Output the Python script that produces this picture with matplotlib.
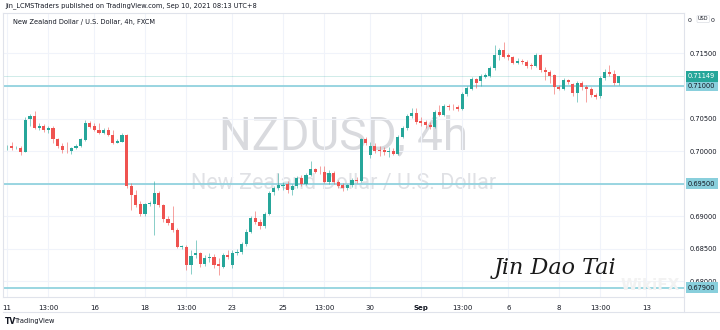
import matplotlib
matplotlib.use("Agg")
import matplotlib.pyplot as plt
import matplotlib.transforms as mtransforms
import numpy as np

# 4h candles NZDUSD
opens = [0.7004, 0.7008, 0.7004, 0.7005, 0.6999, 0.7049, 0.7054, 0.7036, 0.7038, 0.7032,
         0.7036, 0.7018, 0.7008, 0.7002, 0.7000, 0.7005, 0.7008, 0.7017, 0.7043, 0.7038,
         0.7033, 0.7028, 0.7033, 0.7025, 0.7013, 0.7014, 0.7025, 0.6946, 0.6932, 0.6918,
         0.6903, 0.6918, 0.6919, 0.6936, 0.6917, 0.6895, 0.6890, 0.6878, 0.6852, 0.6853,
         0.6824, 0.6840, 0.6843, 0.6826, 0.6836, 0.6837, 0.6826, 0.6822, 0.6840, 0.6825,
         0.6843, 0.6844, 0.6857, 0.6876, 0.6897, 0.6891, 0.6884, 0.6903, 0.6937, 0.6943,
         0.6946, 0.6950, 0.6940, 0.6946, 0.6958, 0.6950, 0.6963, 0.6972, 0.6968, 0.6967,
         0.6953, 0.6966, 0.6952, 0.6947, 0.6943, 0.6948, 0.6956, 0.6954, 0.7018, 0.6994,
         0.7007, 0.7002, 0.7001, 0.6998, 0.7000, 0.6996, 0.7022, 0.7035, 0.7054, 0.7058,
         0.7046, 0.7044, 0.7040, 0.7037, 0.7060, 0.7056, 0.7069, 0.7068, 0.7068, 0.7065,
         0.7087, 0.7096, 0.7110, 0.7107, 0.7114, 0.7116, 0.7127, 0.7147, 0.7155, 0.7148,
         0.7144, 0.7136, 0.7138, 0.7137, 0.7132, 0.7131, 0.7148, 0.7125, 0.7122, 0.7117,
         0.7099, 0.7096, 0.7109, 0.7103, 0.7089, 0.7104, 0.7099, 0.7095, 0.7086, 0.7084,
         0.7112, 0.7121, 0.7118, 0.7105]
closes = [0.7005, 0.7004, 0.7005, 0.6999, 0.7048, 0.7054, 0.7036, 0.7038, 0.7032, 0.7036,
          0.7018, 0.7008, 0.7002, 0.7001, 0.7005, 0.7008, 0.7018, 0.7043, 0.7037, 0.7033,
          0.7028, 0.7033, 0.7025, 0.7013, 0.7015, 0.7025, 0.6946, 0.6932, 0.6917, 0.6903,
          0.6918, 0.6920, 0.6936, 0.6917, 0.6895, 0.6890, 0.6878, 0.6853, 0.6854, 0.6824,
          0.6839, 0.6843, 0.6826, 0.6836, 0.6837, 0.6825, 0.6823, 0.6840, 0.6837, 0.6843,
          0.6845, 0.6857, 0.6876, 0.6897, 0.6891, 0.6884, 0.6903, 0.6936, 0.6943, 0.6947,
          0.6948, 0.6940, 0.6946, 0.6958, 0.6950, 0.6963, 0.6972, 0.6968, 0.6967, 0.6953,
          0.6966, 0.6952, 0.6946, 0.6943, 0.6948, 0.6956, 0.6954, 0.7018, 0.7013, 0.7007,
          0.7000, 0.7000, 0.6999, 0.7000, 0.6996, 0.7022, 0.7035, 0.7054, 0.7058, 0.7045,
          0.7043, 0.7040, 0.7037, 0.7060, 0.7056, 0.7069, 0.7067, 0.7067, 0.7065, 0.7087,
          0.7097, 0.7110, 0.7105, 0.7115, 0.7117, 0.7128, 0.7147, 0.7155, 0.7145, 0.7144,
          0.7136, 0.7138, 0.7137, 0.7131, 0.7130, 0.7148, 0.7125, 0.7122, 0.7116, 0.7098,
          0.7096, 0.7109, 0.7106, 0.7089, 0.7105, 0.7099, 0.7095, 0.7086, 0.7083, 0.7112,
          0.7121, 0.7118, 0.7104, 0.71149]
highs = [0.7009, 0.7014, 0.7008, 0.7008, 0.7052, 0.7057, 0.7062, 0.7043, 0.7042, 0.7038,
         0.7038, 0.7020, 0.7012, 0.7014, 0.7006, 0.7011, 0.7020, 0.7047, 0.7046, 0.7043,
         0.7043, 0.7035, 0.7037, 0.7032, 0.7018, 0.7028, 0.7026, 0.6951, 0.6940, 0.6923,
         0.6920, 0.6923, 0.6954, 0.6938, 0.6918, 0.6900, 0.6915, 0.6882, 0.6855, 0.6855,
         0.6848, 0.6863, 0.6845, 0.6840, 0.6843, 0.6842, 0.6835, 0.6843, 0.6848, 0.6848,
         0.6849, 0.6860, 0.6880, 0.6900, 0.6907, 0.6895, 0.6906, 0.6938, 0.6946, 0.6966,
         0.6952, 0.6954, 0.6949, 0.6962, 0.6963, 0.6966, 0.6984, 0.6974, 0.6977, 0.6977,
         0.6971, 0.6969, 0.6955, 0.6951, 0.6949, 0.6958, 0.6960, 0.7020, 0.7022, 0.7014,
         0.7012, 0.7008, 0.7006, 0.7006, 0.7005, 0.7025, 0.7038, 0.7057, 0.7066, 0.7066,
         0.7052, 0.7048, 0.7045, 0.7063, 0.7071, 0.7072, 0.7072, 0.7072, 0.7071, 0.7091,
         0.7100, 0.7114, 0.7112, 0.7118, 0.7120, 0.7131, 0.7163, 0.7158, 0.7168, 0.7151,
         0.7146, 0.7143, 0.7142, 0.7140, 0.7135, 0.7151, 0.7149, 0.7129, 0.7125, 0.7118,
         0.7102, 0.7112, 0.7111, 0.7105, 0.7108, 0.7108, 0.7102, 0.7098, 0.7089, 0.7115,
         0.7126, 0.7132, 0.7125, 0.7116]
lows = [0.7002, 0.7002, 0.7003, 0.6994, 0.6998, 0.7038, 0.7034, 0.7032, 0.7029, 0.7028,
        0.7012, 0.7005, 0.6997, 0.6997, 0.6995, 0.7003, 0.7006, 0.7015, 0.7035, 0.7031,
        0.7026, 0.7026, 0.7023, 0.7011, 0.7012, 0.7014, 0.6943, 0.6909, 0.6914, 0.6900,
        0.6900, 0.6915, 0.6871, 0.6914, 0.6891, 0.6886, 0.6875, 0.6851, 0.6849, 0.6817,
        0.6811, 0.6835, 0.6822, 0.6823, 0.6829, 0.6820, 0.6809, 0.6820, 0.6834, 0.6820,
        0.6840, 0.6842, 0.6854, 0.6874, 0.6888, 0.6880, 0.6882, 0.6902, 0.6932, 0.6940,
        0.6940, 0.6935, 0.6932, 0.6943, 0.6946, 0.6948, 0.6962, 0.6966, 0.6965, 0.6951,
        0.6949, 0.6949, 0.6943, 0.6938, 0.6940, 0.6945, 0.6951, 0.6952, 0.7009, 0.6989,
        0.6997, 0.6992, 0.6994, 0.6991, 0.6994, 0.6994, 0.7020, 0.7032, 0.7051, 0.7042,
        0.7038, 0.7035, 0.7034, 0.7035, 0.7054, 0.7054, 0.7063, 0.7063, 0.7062, 0.7063,
        0.7085, 0.7094, 0.7097, 0.7100, 0.7112, 0.7114, 0.7125, 0.7140, 0.7143, 0.7140,
        0.7134, 0.7134, 0.7134, 0.7128, 0.7126, 0.7129, 0.7122, 0.7109, 0.7105, 0.7088,
        0.7094, 0.7094, 0.7103, 0.7085, 0.7075, 0.7094, 0.7075, 0.7083, 0.7080, 0.7082,
        0.7109, 0.7115, 0.7102, 0.7102]

# time axis labels (bar index where they sit)
tick_pos = [0, 9, 19, 30, 39, 49, 60, 69, 79, 90, 99, 109, 120, 129, 139]
tick_lbl = ["11", "13:00", "16", "18", "13:00", "23", "25", "13:00", "30", "Sep",
            "13:00", "6", "8", "13:00", "13"]

levels = [0.71000, 0.69500, 0.67900]
last_price = closes[-1]
price_ticks = [0.680, 0.685, 0.690, 0.695, 0.700, 0.705, 0.710, 0.715]

UP = "#26a69a"
DOWN = "#ef5350"
LEVEL = "#89cfdc"
GRID = "#f0f3fa"
TXT = "#131722"

W, H = 720, 330
fig = plt.figure(figsize=(W / 100, H / 100), dpi=100)
fig.patch.set_facecolor("white")

# plot area in pixels: left 3, right 684, top 13, bottom 297
L, R, T, B = 3, 684, 13, 297
ax = fig.add_axes([L / W, 1 - B / H, (R - L) / W, (B - T) / H])

o = np.array(opens)
c = np.array(closes)
hi = np.array(highs)
lo = np.array(lows)
x = np.arange(len(o))
up = c >= o
cols = np.where(up, UP, DOWN)

ax.vlines(x, lo, hi, colors=cols, linewidth=0.7, alpha=0.55, zorder=3)
body_lo = np.minimum(o, c)
body_h = np.maximum(np.abs(c - o), 0.00004)
ax.bar(x, body_h, bottom=body_lo, width=0.68, color=cols, linewidth=0, zorder=4)

for lv in levels:
    ax.axhline(lv, color=LEVEL, linewidth=1.2, zorder=2)
ax.axhline(last_price, color=UP, linewidth=0.6, alpha=0.25, zorder=2)

ax.set_xlim(-0.87, 147.2)
ax.set_ylim(0.67754, 0.72123)

ax.set_xticks(tick_pos)
ax.set_xticklabels(tick_lbl)
for lab in ax.get_xticklabels():
    lab.set_fontsize(5)
    lab.set_color(TXT)
    if lab.get_text() == "Sep":
        lab.set_fontweight("bold")
ax.tick_params(axis="x", length=0, pad=6)

ax.yaxis.tick_right()
ax.set_yticks(price_ticks)
ax.set_yticklabels([f"{p:.5f}" for p in price_ticks])
ax.tick_params(axis="y", length=0, pad=4, labelsize=4.8, labelcolor=TXT)

ax.grid(True, color=GRID, linewidth=0.8, zorder=0)
for s in ax.spines.values():
    s.set_color("#e0e3eb")
    s.set_linewidth(0.8)

# boxed price labels on the right scale
trans = mtransforms.blended_transform_factory(ax.transAxes, ax.transData)
for lv in levels:
    ax.text(1.006, lv, f"{lv:.5f}", transform=trans, ha="left", va="center",
            fontsize=4.8, color=TXT, clip_on=False, zorder=6,
            bbox=dict(boxstyle="square,pad=0.35", fc=LEVEL, ec="none"))
ax.text(1.006, last_price, f"{last_price:.5f}", transform=trans, ha="left", va="center",
        fontsize=4.8, color="white", clip_on=False, zorder=6,
        bbox=dict(boxstyle="square,pad=0.35", fc=UP, ec="none"))

# watermark
ax.text(0.5, 0.565, "NZDUSD, 4h", transform=ax.transAxes, ha="center", va="center",
        fontsize=33, family="Roboto", color="#d9dade", zorder=1)
ax.text(0.5, 0.398, "New Zealand Dollar / U.S. Dollar", transform=ax.transAxes,
        ha="center", va="center", fontsize=15.5, family="Roboto", color="#e0e1e5", zorder=1)

# header / legend
fig.text(5 / W, 1 - 6 / H, "Jin_LCMSTraders published on TradingView.com, Sep 10, 2021 08:13 UTC+8",
         fontsize=4.8, color=TXT, va="center", ha="left")
ax.text(10 / (R - L), 1 - 9 / (B - T), "New Zealand Dollar / U.S. Dollar, 4h, FXCM",
        transform=ax.transAxes, fontsize=4.8, color=TXT, va="center", ha="left")

# top of price scale
fig.text(688 / W, 1 - 21 / H, "0", fontsize=4.5, color=TXT, va="center")
fig.text(698 / W, 1 - 19 / H, "USD", fontsize=3.6, color=TXT, va="center",
         bbox=dict(boxstyle="round,pad=0.2", fc="white", ec="#d1d4dc", lw=0.4))
fig.text(711 / W, 1 - 21 / H, "0", fontsize=4.5, color=TXT, va="center")

# bottom frame of time axis
fig.add_artist(plt.Line2D([L / W, 1], [1 - 312 / H, 1 - 312 / H], color="#e0e3eb", lw=0.8))
fig.add_artist(plt.Line2D([R / W, R / W], [1 - 312 / H, 1 - B / H], color="#e0e3eb", lw=0.8))

# signature and logos
fig.text(555 / W, 1 - 268 / H, "Jin Dao Tai", fontsize=16, family="DejaVu Serif",
         style="italic", color="#1a1a1a", ha="center", va="center")
fig.text(650 / W, 1 - 286 / H, "WikiFX", fontsize=11, fontweight="bold",
         color="#f2f2f2", ha="center", va="center", zorder=0)
fig.text(5 / W, 1 - 321 / H, "TV", fontsize=5.5, fontweight="bold", color=TXT,
         ha="left", va="center")
fig.text(15 / W, 1 - 321 / H, "TradingView", fontsize=4.8, color=TXT, ha="left", va="center")

fig.savefig("out.png", dpi=100, facecolor="white")
